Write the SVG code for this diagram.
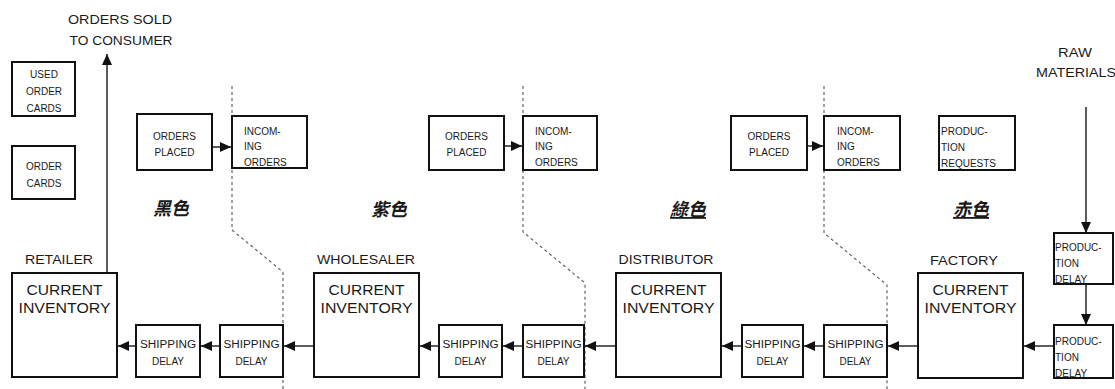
<svg xmlns="http://www.w3.org/2000/svg" width="1115" height="389" viewBox="0 0 1115 389">
<style>
.box{fill:#fff;stroke:#111;stroke-width:2}
.t{font-family:"Liberation Sans",Arial,sans-serif;fill:#1a1a1a;font-size:10px}
.c{text-anchor:middle}
.big{font-size:14px}
.lbl{font-size:13px}
.cjk{font-family:"Noto Sans CJK TC","Noto Sans CJK SC",sans-serif;font-size:18px;font-style:italic;font-weight:bold;fill:#1a1a1a}
.conn{stroke:#333;stroke-width:1.6;fill:none}
.dash{stroke:#555;stroke-width:1.1;stroke-dasharray:3 3;fill:none}
</style>
<defs>
<marker id="ah" markerUnits="userSpaceOnUse" markerWidth="11" markerHeight="10" refX="11" refY="5" orient="auto">
<path d="M0,0 L11,5 L0,10 z" fill="#111"/>
</marker>
</defs>
<rect width="1115" height="389" fill="#fff"/>

<g id="free-text">
<text class="t c lbl" x="120" y="24" textLength="104" lengthAdjust="spacingAndGlyphs">ORDERS SOLD</text>
<text class="t c lbl" x="121" y="45" textLength="103" lengthAdjust="spacingAndGlyphs">TO CONSUMER</text>
<text class="t c lbl" x="1075" y="57" textLength="34" lengthAdjust="spacingAndGlyphs">RAW</text>
<text class="t lbl" x="1036" y="77" textLength="80" lengthAdjust="spacingAndGlyphs">MATERIALS</text>
<text class="cjk" x="153" y="215">黑色</text>
<text class="cjk" x="371" y="216">紫色</text>
<text class="cjk" x="670" y="216" text-decoration="underline">綠色</text>
<text class="cjk" x="953" y="216" text-decoration="underline">赤色</text>
<text class="t c lbl" x="59" y="264" textLength="68" lengthAdjust="spacingAndGlyphs">RETAILER</text>
<text class="t c lbl" x="366" y="264" textLength="98" lengthAdjust="spacingAndGlyphs">WHOLESALER</text>
<text class="t c lbl" x="666" y="264" textLength="95" lengthAdjust="spacingAndGlyphs">DISTRIBUTOR</text>
<text class="t c lbl" x="964" y="265" textLength="68" lengthAdjust="spacingAndGlyphs">FACTORY</text>
</g>

<g id="connectors">
<path class="dash" d="M232,86 L232,230 L283,272 L283,389"/>
<path class="dash" d="M523,86 L523,232 L585,283 L585,389"/>
<path class="dash" d="M824,86 L824,233 L887,285 L887,389"/>
<line class="conn" x1="107" y1="272" x2="107" y2="54" marker-end="url(#ah)"/>
<line class="conn" x1="212" y1="147" x2="231" y2="147" marker-end="url(#ah)"/>
<line class="conn" x1="504" y1="146" x2="522" y2="146" marker-end="url(#ah)"/>
<line class="conn" x1="807" y1="146" x2="823" y2="146" marker-end="url(#ah)"/>
<line class="conn" x1="136" y1="346" x2="118" y2="346" marker-end="url(#ah)"/>
<line class="conn" x1="220" y1="346" x2="201" y2="346" marker-end="url(#ah)"/>
<line class="conn" x1="314" y1="346" x2="284" y2="346" marker-end="url(#ah)"/>
<line class="conn" x1="439" y1="346" x2="420" y2="346" marker-end="url(#ah)"/>
<line class="conn" x1="523" y1="346" x2="503" y2="346" marker-end="url(#ah)"/>
<line class="conn" x1="616" y1="346" x2="585" y2="346" marker-end="url(#ah)"/>
<line class="conn" x1="742" y1="346" x2="722" y2="346" marker-end="url(#ah)"/>
<line class="conn" x1="824" y1="346" x2="804" y2="346" marker-end="url(#ah)"/>
<line class="conn" x1="918" y1="346" x2="888" y2="346" marker-end="url(#ah)"/>
<line class="conn" x1="1054" y1="346" x2="1024" y2="346" marker-end="url(#ah)"/>
<line class="conn" x1="1086" y1="107" x2="1086" y2="233" marker-end="url(#ah)"/>
<line class="conn" x1="1086" y1="284" x2="1086" y2="325" marker-end="url(#ah)"/>
</g>

<g id="used-order-cards">
<rect class="box" x="12" y="62" width="63" height="54"/>
<text class="t c" x="44" y="78">USED</text>
<text class="t c" x="44" y="95">ORDER</text>
<text class="t c" x="44" y="112">CARDS</text>
</g>
<g id="order-cards">
<rect class="box" x="12" y="146" width="63" height="53"/>
<text class="t c" x="44" y="170">ORDER</text>
<text class="t c" x="44" y="187">CARDS</text>
</g>

<g id="retailer-orders-placed">
<rect class="box" x="137" y="114" width="75" height="56"/>
<text class="t c" x="174.5" y="140">ORDERS</text>
<text class="t c" x="174.5" y="156">PLACED</text>
</g>
<g id="retailer-incoming-orders">
<rect class="box" x="232" y="116" width="75" height="52"/>
<text class="t" x="244" y="135">INCOM-</text>
<text class="t" x="244" y="150">ING</text>
<text class="t" x="244" y="166">ORDERS</text>
</g>
<g id="wholesaler-orders-placed">
<rect class="box" x="429" y="116" width="75" height="54"/>
<text class="t c" x="466.5" y="140">ORDERS</text>
<text class="t c" x="466.5" y="156">PLACED</text>
</g>
<g id="wholesaler-incoming-orders">
<rect class="box" x="523" y="116" width="74" height="54"/>
<text class="t" x="535" y="135">INCOM-</text>
<text class="t" x="535" y="150">ING</text>
<text class="t" x="535" y="166">ORDERS</text>
</g>
<g id="distributor-orders-placed">
<rect class="box" x="731" y="116" width="76" height="54"/>
<text class="t c" x="769" y="140">ORDERS</text>
<text class="t c" x="769" y="156">PLACED</text>
</g>
<g id="distributor-incoming-orders">
<rect class="box" x="824" y="116" width="76" height="54"/>
<text class="t" x="837" y="135">INCOM-</text>
<text class="t" x="837" y="150">ING</text>
<text class="t" x="837" y="166">ORDERS</text>
</g>
<g id="production-requests">
<rect class="box" x="939" y="116" width="76" height="54"/>
<text class="t" x="941" y="135">PRODUC-</text>
<text class="t" x="941" y="151">TION</text>
<text class="t" x="941" y="167">REQUESTS</text>
</g>

<g id="retailer-inventory">
<rect class="box" x="12" y="273" width="105" height="104"/>
<text class="t c big" x="64.5" y="295" textLength="76" lengthAdjust="spacingAndGlyphs">CURRENT</text>
<text class="t c big" x="64.5" y="313" textLength="92" lengthAdjust="spacingAndGlyphs">INVENTORY</text>
</g>
<g id="wholesaler-inventory">
<rect class="box" x="314" y="273" width="105" height="104"/>
<text class="t c big" x="366.5" y="295" textLength="76" lengthAdjust="spacingAndGlyphs">CURRENT</text>
<text class="t c big" x="366.5" y="313" textLength="92" lengthAdjust="spacingAndGlyphs">INVENTORY</text>
</g>
<g id="distributor-inventory">
<rect class="box" x="616" y="273" width="105" height="104"/>
<text class="t c big" x="668.5" y="295" textLength="76" lengthAdjust="spacingAndGlyphs">CURRENT</text>
<text class="t c big" x="668.5" y="313" textLength="92" lengthAdjust="spacingAndGlyphs">INVENTORY</text>
</g>
<g id="factory-inventory">
<rect class="box" x="918" y="273" width="105" height="105"/>
<text class="t c big" x="970.5" y="295" textLength="76" lengthAdjust="spacingAndGlyphs">CURRENT</text>
<text class="t c big" x="970.5" y="313" textLength="92" lengthAdjust="spacingAndGlyphs">INVENTORY</text>
</g>

<g id="shipping-delay-1">
<rect class="box" x="136" y="325" width="64" height="52"/>
<text class="t c" x="168" y="348" textLength="56" lengthAdjust="spacingAndGlyphs">SHIPPING</text>
<text class="t c" x="168" y="365">DELAY</text>
</g>
<g id="shipping-delay-2">
<rect class="box" x="220" y="325" width="63" height="52"/>
<text class="t c" x="251.5" y="348" textLength="56" lengthAdjust="spacingAndGlyphs">SHIPPING</text>
<text class="t c" x="251.5" y="365">DELAY</text>
</g>
<g id="shipping-delay-3">
<rect class="box" x="439" y="325" width="63" height="52"/>
<text class="t c" x="470.5" y="348" textLength="56" lengthAdjust="spacingAndGlyphs">SHIPPING</text>
<text class="t c" x="470.5" y="365">DELAY</text>
</g>
<g id="shipping-delay-4">
<rect class="box" x="523" y="325" width="61" height="52"/>
<text class="t c" x="553.5" y="348" textLength="56" lengthAdjust="spacingAndGlyphs">SHIPPING</text>
<text class="t c" x="553.5" y="365">DELAY</text>
</g>
<g id="shipping-delay-5">
<rect class="box" x="742" y="325" width="61" height="52"/>
<text class="t c" x="772.5" y="348" textLength="56" lengthAdjust="spacingAndGlyphs">SHIPPING</text>
<text class="t c" x="772.5" y="365">DELAY</text>
</g>
<g id="shipping-delay-6">
<rect class="box" x="824" y="325" width="63" height="52"/>
<text class="t c" x="855.5" y="348" textLength="56" lengthAdjust="spacingAndGlyphs">SHIPPING</text>
<text class="t c" x="855.5" y="365">DELAY</text>
</g>

<g id="production-delay-1">
<rect class="box" x="1054" y="233" width="59" height="51"/>
<text class="t" x="1055" y="251">PRODUC-</text>
<text class="t" x="1055" y="267">TION</text>
<text class="t" x="1055" y="283">DELAY</text>
</g>
<g id="production-delay-2">
<rect class="box" x="1054" y="325" width="59" height="53"/>
<text class="t" x="1055" y="345">PRODUC-</text>
<text class="t" x="1055" y="361">TION</text>
<text class="t" x="1055" y="377">DELAY</text>
</g>
</svg>
